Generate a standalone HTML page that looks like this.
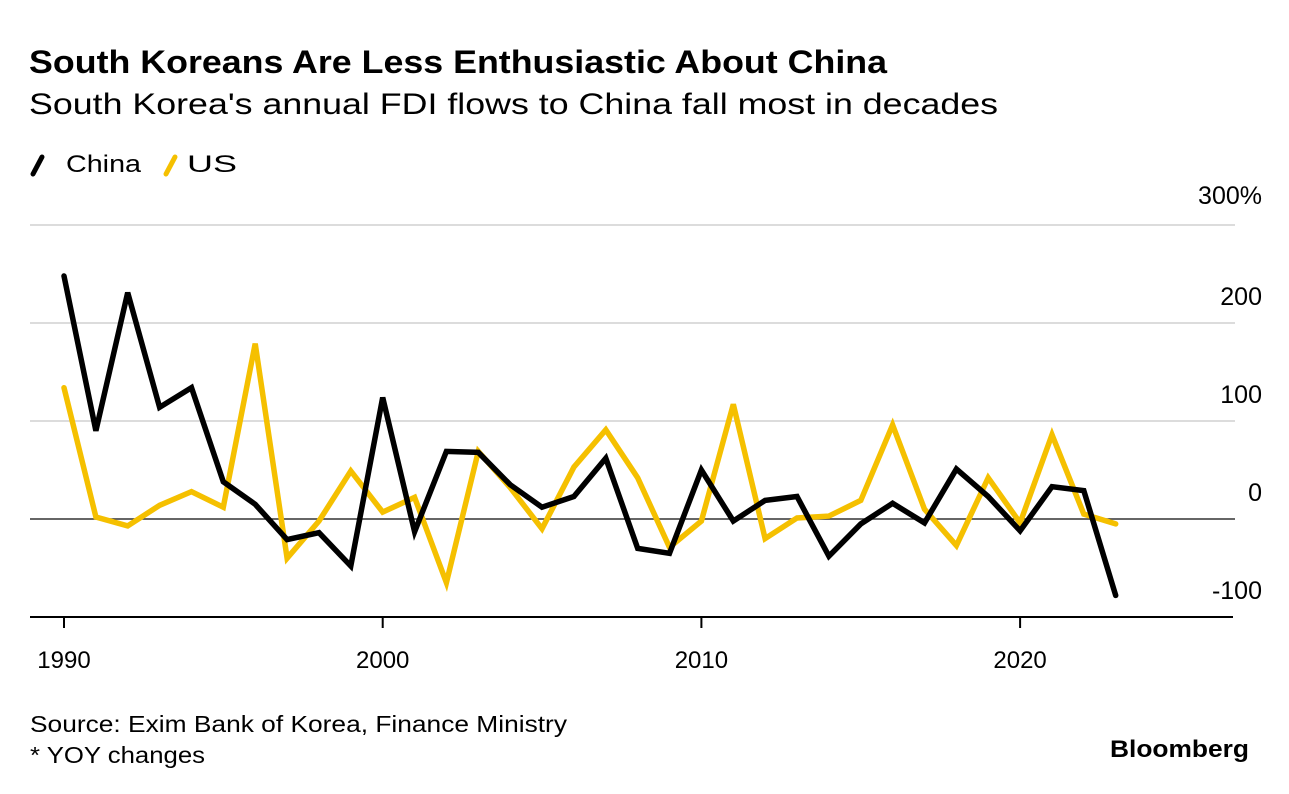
<!DOCTYPE html>
<html><head><meta charset="utf-8"><style>
body{margin:0;background:#fff;}
svg{display:block;font-family:"Liberation Sans",Arial,sans-serif;}
</style></head><body>
<svg id="chart" width="1289" height="794" viewBox="0 0 1289 794">
<text x="29" y="73" font-size="32" font-weight="bold" textLength="858" lengthAdjust="spacingAndGlyphs" fill="#000">South Koreans Are Less Enthusiastic About China</text>
<text x="29" y="114" font-size="30" textLength="969" lengthAdjust="spacingAndGlyphs" fill="#000">South Korea's annual FDI flows to China fall most in decades</text>
<g>
<line x1="33" y1="174" x2="42" y2="157" stroke="#000" stroke-width="5" stroke-linecap="round"/>
<text x="66" y="172" font-size="24" textLength="75" lengthAdjust="spacingAndGlyphs" fill="#000">China</text></g>
<g>
<line x1="166" y1="174" x2="175" y2="157" stroke="#f5c000" stroke-width="5" stroke-linecap="round"/>
<text x="187" y="172" font-size="24" textLength="50" lengthAdjust="spacingAndGlyphs" fill="#000">US</text></g>
<g id="grid"></g>
<g id="series"></g>
<text x="30" y="732" font-size="23" textLength="537" lengthAdjust="spacingAndGlyphs" fill="#000">Source: Exim Bank of Korea, Finance Ministry</text>
<text x="30" y="763" font-size="23" textLength="175" lengthAdjust="spacingAndGlyphs" fill="#000">* YOY changes</text>
<text x="1249" y="757" font-size="24" font-weight="bold" text-anchor="end" textLength="139" lengthAdjust="spacingAndGlyphs" fill="#000">Bloomberg</text>
</svg>
<script>
const years=[1990,1991,1992,1993,1994,1995,1996,1997,1998,1999,2000,2001,2002,2003,2004,2005,2006,2007,2008,2009,2010,2011,2012,2013,2014,2015,2016,2017,2018,2019,2020,2021,2022,2023];
const chinaValues=[248,90,231,114,134,38,15,-21,-14,-48,124,-13,69,68,35,12,23,62,-30,-35,50,-2,19,23,-38,-5,16,-4,51,23,-12,33,29,-78];
const usValues=[134,2,-7,14,28,12,179,-40,-2,49,7,22,-65,69,32,-10,53,91,42,-29,-2,117,-20,1,3,19,96,10,-27,42,-4,86,5,-5];
const yTicks=[300,200,100,0,-100];
const yTickLabels=['300%','200','100','0','-100'];
const xTicks=[1990,2000,2010,2020];
const NS='http://www.w3.org/2000/svg';
const xs=y=>64+(y-1990)*31.87;
const ys=v=>519-v*0.98;
const grid=document.getElementById('grid'),series=document.getElementById('series');
function mk(tag,attrs,parent){const e=document.createElementNS(NS,tag);for(const k in attrs)e.setAttribute(k,attrs[k]);parent.appendChild(e);return e;}
yTicks.forEach((t,i)=>{
  if(t>0){const l=mk('line',{x1:30,x2:1235,y1:ys(t),y2:ys(t),stroke:'#dcdcdc','stroke-width':2},grid);
  
  }
  const tx=mk('text',{x:1262,y:ys(t)-18+(t===300?-3:0),'font-size':25,'text-anchor':'end',fill:'#000'},grid);
  tx.textContent=yTickLabels[i];
  
  
});
const z=mk('line',{x1:30,x2:1235,y1:ys(0),y2:ys(0),stroke:'#333','stroke-width':1.5},grid);


const ax=mk('line',{x1:30,x2:1233,y1:ys(-100),y2:ys(-100),stroke:'#000','stroke-width':2},grid);


xTicks.forEach(t=>{
  const l=mk('line',{x1:xs(t),x2:xs(t),y1:ys(-100),y2:ys(-100)+11,stroke:'#000','stroke-width':2},grid);
  
  
  const tx=mk('text',{x:xs(t),y:668,'font-size':24,'text-anchor':'middle',fill:'#000'},grid);
  tx.textContent=t;
  
  
});
function line(vals,color,name){
  const d=vals.map((v,i)=>(i?'L':'M')+xs(years[i]).toFixed(1)+','+ys(v).toFixed(1)).join(' ');
  const p=mk('path',{d:d,fill:'none',stroke:color,'stroke-width':5.5,'stroke-linejoin':'miter','stroke-linecap':'round'},series);
  
  
}
line(usValues,'#f5c000','us-line');
line(chinaValues,'#000','china-line');
</script>
</body></html>
